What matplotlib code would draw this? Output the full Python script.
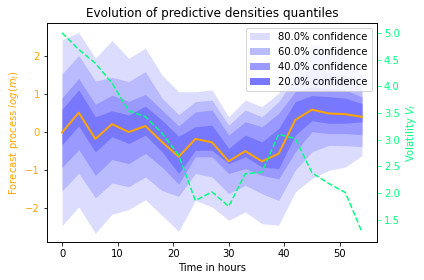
import matplotlib
matplotlib.use('Agg')
import matplotlib.pyplot as plt
import numpy as np

hours = np.arange(0, 55, 3)

median = [0.0, 0.52, -0.17, 0.22, 0.01, 0.17, -0.25, -0.64, -0.17, -0.26,
          -0.76, -0.49, -0.76, -0.56, 0.33, 0.60, 0.50, 0.48, 0.41]

volatility = [5.0, 4.69, 4.43, 4.06, 3.54, 3.43, 3.12, 2.71, 1.86, 2.02,
              1.75, 2.36, 2.39, 3.10, 3.02, 2.38, 2.18, 2.01, 1.27]

# upper / lower bounds for each confidence band
upper_80 = [2.44, 2.63, 1.95, 2.42, 1.95, 2.22, 1.51, 1.07, 1.07, 1.12,
            0.41, 0.85, 0.68, 1.03, 1.90, 2.30, 2.20, 2.00, 1.50]
lower_80 = [-2.45, -1.96, -2.65, -2.15, -2.03, -1.77, -2.18, -2.60, -1.79, -1.96,
            -2.31, -2.09, -2.40, -2.44, -1.57, -1.21, -1.00, -0.91, -0.61]
upper_60 = [1.54, 2.02, 1.35, 1.45, 1.34, 1.60, 0.90, 0.47, 0.81, 0.85,
            0.19, 0.59, 0.41, 0.81, 1.45, 1.70, 1.60, 1.50, 1.15]
lower_60 = [-1.54, -1.07, -1.72, -1.33, -1.43, -1.17, -1.53, -1.68, -1.08, -1.17,
            -1.61, -1.39, -1.61, -1.79, -0.99, -0.51, -0.34, -0.35, -0.37]
upper_40 = [0.91, 1.42, 0.74, 0.98, 0.82, 1.00, 0.59, 0.17, 0.54, 0.59,
            -0.07, 0.28, 0.15, 0.50, 1.07, 1.20, 1.16, 1.12, 0.93]
lower_40 = [-0.92, -0.45, -1.13, -0.71, -0.82, -0.55, -0.91, -1.36, -0.64, -0.64,
            -1.08, -0.95, -1.13, -1.22, -0.51, 0.02, -0.03, -0.03, -0.06]
upper_20 = [0.61, 1.12, 0.41, 0.57, 0.46, 0.69, 0.32, -0.10, 0.15, 0.19,
            -0.42, -0.07, -0.25, 0.10, 0.81, 0.97, 0.94, 0.90, 0.76]
lower_20 = [-0.32, 0.17, -0.51, -0.11, -0.29, -0.07, -0.51, -1.08, -0.47, -0.47,
            -0.82, -0.64, -0.91, -0.95, -0.07, 0.31, 0.24, 0.24, 0.28]

bands = [('80.0% confidence', upper_80, lower_80, '#dcdcff'),
         ('60.0% confidence', upper_60, lower_60, '#babaff'),
         ('40.0% confidence', upper_40, lower_40, '#9999ff'),
         ('20.0% confidence', upper_20, lower_20, '#7878ff')]

fig, ax = plt.subplots(figsize=(424 / 72, 280 / 72), dpi=72)
fig.subplots_adjust(left=0.111, right=0.889, top=0.918, bottom=0.136)

for label, up, lo, col in bands:
    ax.fill_between(hours, lo, up, color=col, linewidth=0, label=label)
ax.plot(hours, median, color='orange', linewidth=2)

ax.set_xlim(-2.7, 56.7)
ax.set_ylim(-2.88, 2.88)
ax.set_xticks([0, 10, 20, 30, 40, 50])
ax.set_yticks([-2, -1, 0, 1, 2])
ax.set_yticklabels(['\u22122', '\u22121', '0', '1', '2'])
ax.tick_params(axis='y', labelcolor='orange')
ax.set_xlabel('Time in hours')
ax.set_ylabel('Forecast process $log(m_t)$', color='orange')
ax.set_title('Evolution of predictive densities quantiles')
ax.legend(loc='upper right', framealpha=0.8)

ax2 = ax.twinx()
ax2.plot(hours, volatility, color='springgreen', linestyle='--', linewidth=1.5)
ax2.tick_params(axis='y', colors='springgreen')
ax2.set_ylabel('Volatility $V_t$', color='springgreen')

fig.savefig('out.png', dpi=72)
